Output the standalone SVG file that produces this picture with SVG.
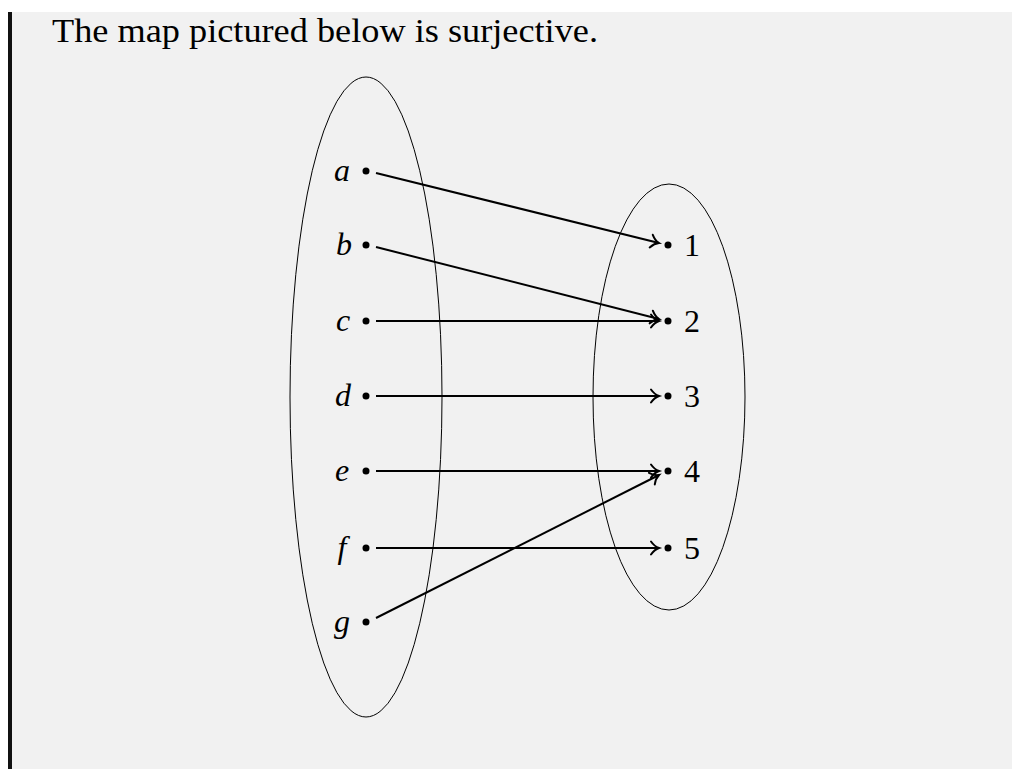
<svg xmlns="http://www.w3.org/2000/svg" width="1012" height="769" viewBox="0 0 1012 769">
<defs>
<style>
.dot{fill:#000}
.lab{font-family:"Liberation Serif","DejaVu Serif",serif;font-size:32px;font-style:italic;fill:#000}
.num{font-family:"Liberation Serif","DejaVu Serif",serif;font-size:32px;fill:#000}
.set{fill:none;stroke:#000;stroke-width:1}
.arr{stroke:#000;stroke-width:2;fill:none;marker-end:url(#to)}
</style>
<marker id="to" markerWidth="14" markerHeight="16" refX="10" refY="8" orient="auto" markerUnits="userSpaceOnUse">
<path d="M2,1.5 Q5.5,6.5 10,8 Q5.5,9.5 2,14.5" fill="none" stroke="#000" stroke-width="2" stroke-linecap="round"/>
</marker>
</defs>
<rect x="0" y="0" width="1012" height="769" fill="#ffffff"/>
<rect x="8" y="12" width="1004" height="757" fill="#f1f1f1"/>
<rect x="8" y="12" width="4" height="757" fill="#111"/>
<text x="52" y="42" font-family="Liberation Serif,serif" font-size="34" fill="#000" textLength="546" lengthAdjust="spacingAndGlyphs">The map pictured below is surjective.</text>
<g id="domain"><ellipse class="set" cx="366" cy="397" rx="76" ry="320"/></g>
<g id="codomain"><ellipse class="set" cx="669" cy="397" rx="76" ry="213"/></g>
<g id="a"><circle class="dot" cx="366" cy="171" r="3.5"/><text class="lab" x="342" y="181" text-anchor="middle">a</text></g>
<g id="b"><circle class="dot" cx="366" cy="245" r="3.5"/><text class="lab" x="344" y="255" text-anchor="middle">b</text></g>
<g id="c"><circle class="dot" cx="366" cy="321" r="3.5"/><text class="lab" x="343" y="331" text-anchor="middle">c</text></g>
<g id="d"><circle class="dot" cx="366" cy="396" r="3.5"/><text class="lab" x="343" y="406" text-anchor="middle">d</text></g>
<g id="e"><circle class="dot" cx="366" cy="471" r="3.5"/><text class="lab" x="342" y="481" text-anchor="middle">e</text></g>
<g id="f"><circle class="dot" cx="366" cy="548" r="3.5"/><text class="lab" x="342" y="558" text-anchor="middle">f</text></g>
<g id="g"><circle class="dot" cx="366" cy="622" r="3.5"/><text class="lab" x="342" y="632" text-anchor="middle">g</text></g>
<g id="n1"><circle class="dot" cx="668" cy="245" r="3.5"/><text class="num" x="692" y="256" text-anchor="middle">1</text></g>
<g id="n2"><circle class="dot" cx="668" cy="321" r="3.5"/><text class="num" x="692" y="332" text-anchor="middle">2</text></g>
<g id="n3"><circle class="dot" cx="668" cy="396" r="3.5"/><text class="num" x="692" y="407" text-anchor="middle">3</text></g>
<g id="n4"><circle class="dot" cx="668" cy="471" r="3.5"/><text class="num" x="692" y="482" text-anchor="middle">4</text></g>
<g id="n5"><circle class="dot" cx="668" cy="548" r="3.5"/><text class="num" x="692" y="559" text-anchor="middle">5</text></g>
<g id="connectors">
<line class="arr" x1="376" y1="173" x2="659" y2="243"/>
<line class="arr" x1="376" y1="247" x2="659" y2="319"/>
<line class="arr" x1="376" y1="321" x2="659" y2="321"/>
<line class="arr" x1="376" y1="396" x2="659" y2="396"/>
<line class="arr" x1="376" y1="471" x2="659" y2="471"/>
<line class="arr" x1="376" y1="548" x2="659" y2="548"/>
<line class="arr" x1="376" y1="618" x2="659" y2="475"/>
</g>
</svg>
